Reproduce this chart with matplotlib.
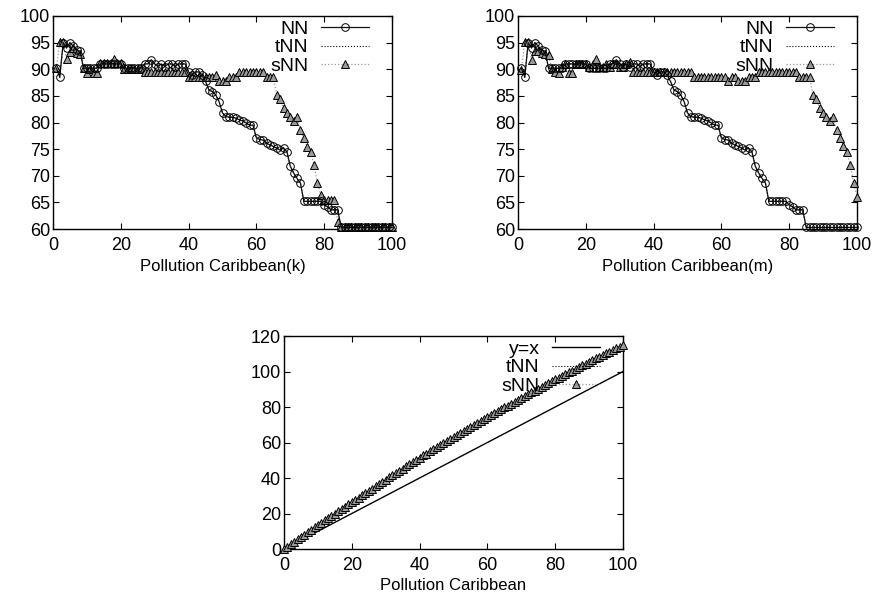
import matplotlib
matplotlib.use("Agg")
import matplotlib.pyplot as plt

plt.rcParams['font.family'] = ['Liberation Sans', 'DejaVu Sans']

x_top = list(range(1, 101))

nn = [90.2, 88.5, 95.0, 94.0, 95.0, 94.3, 93.6, 93.4, 90.2, 90.2,
      90.2, 90.2, 90.2, 91.0, 91.0, 91.0, 91.0, 91.0, 91.0, 91.0,
      90.2, 90.2, 90.2, 90.2, 90.2, 90.2, 91.0, 91.0, 91.8, 91.0,
      90.5, 91.0, 90.5, 91.0, 91.0, 90.5, 91.0, 91.0, 91.0, 89.5,
      88.9, 89.5, 89.5, 88.9, 87.7, 86.1, 85.8, 85.2, 83.9, 81.8,
      81.1, 81.0, 81.0, 80.8, 80.5, 80.3, 79.9, 79.5, 79.5, 77.1,
      76.8, 76.7, 76.1, 75.8, 75.5, 75.2, 74.8, 75.2, 74.5, 71.8,
      70.5, 69.5, 68.6, 65.2, 65.2, 65.2, 65.2, 65.2, 65.2, 64.5,
      64.2, 63.6, 63.6, 63.6, 60.3, 60.3, 60.3, 60.3, 60.3, 60.3,
      60.3, 60.3, 60.3, 60.3, 60.3, 60.3, 60.3, 60.3, 60.3, 60.3]

tnn = nn

snn_k = [90.2, 95.2, 95.2, 91.9, 93.3, 94.0, 93.0, 92.8, 90.2, 89.3,
         90.0, 89.3, 89.3, 91.1, 91.1, 91.1, 91.1, 91.9, 91.1, 91.1,
         90.0, 90.0, 90.0, 90.0, 90.0, 90.0, 89.5, 89.5, 89.5, 89.5,
         89.5, 89.5, 89.5, 89.5, 89.5, 89.5, 89.5, 89.5, 89.5, 88.5,
         88.5, 88.5, 88.5, 88.5, 88.5, 88.5, 88.5, 88.9, 87.7, 87.7,
         87.7, 88.5, 88.5, 88.5, 89.5, 89.5, 89.5, 89.5, 89.5, 89.5,
         89.5, 89.5, 88.5, 88.5, 88.5, 85.2, 84.4, 82.7, 81.8, 81.0,
         80.3, 81.0, 78.6, 77.1, 75.4, 74.5, 72.0, 68.7, 66.4, 65.4,
         65.4, 65.4, 65.4, 61.4, 60.3, 60.3, 60.3, 60.3, 60.3, 60.3,
         60.3, 60.3, 60.3, 60.3, 60.3, 60.3, 60.3, 60.3, 60.3, 60.3]

snn_m = [89.9, 95.2, 95.2, 91.8, 93.5, 93.5, 93.0, 92.8, 92.7, 90.0,
         89.5, 89.3, 90.5, 91.0, 89.3, 89.3, 91.0, 91.0, 91.0, 91.0,
         90.5, 91.0, 92.0, 90.5, 90.5, 91.0, 90.5, 91.0, 91.0, 90.5,
         90.5, 91.0, 91.4, 89.5, 89.5, 89.5, 89.5, 89.5, 89.5, 89.5,
         89.5, 89.5, 89.5, 89.5, 89.5, 89.5, 89.5, 89.5, 89.5, 89.5,
         89.5, 88.5, 88.5, 88.5, 88.5, 88.5, 88.5, 88.5, 88.5, 88.5,
         88.5, 87.7, 88.5, 88.5, 87.7, 87.7, 87.7, 88.5, 88.5, 88.5,
         89.5, 89.5, 89.5, 89.5, 89.5, 89.5, 89.5, 89.5, 89.5, 89.5,
         89.5, 89.5, 88.5, 88.5, 88.5, 88.5, 85.2, 84.4, 82.7, 81.8,
         81.0, 80.3, 81.0, 78.6, 77.0, 75.5, 74.5, 72.0, 68.7, 66.1]

x_bot = list(range(0, 101))
yx = x_bot
snn_b = [0.0,
         1.4, 2.7, 4.1, 5.4, 6.8, 8.1, 9.5, 10.8, 12.2, 13.5,
         14.8, 16.1, 17.4, 18.7, 20.0, 21.3, 22.6, 23.9, 25.2, 26.5,
         27.8, 29.0, 30.3, 31.5, 32.8, 34.0, 35.3, 36.5, 37.8, 39.0,
         40.3, 41.5, 42.8, 44.0, 45.3, 46.5, 47.8, 49.0, 50.3, 51.5,
         52.7, 53.8, 55.0, 56.1, 57.3, 58.4, 59.6, 60.7, 61.9, 63.0,
         64.2, 65.3, 66.5, 67.6, 68.8, 69.9, 71.1, 72.2, 73.4, 74.5,
         75.6, 76.6, 77.7, 78.7, 79.8, 80.8, 81.9, 82.9, 84.0, 85.0,
         86.1, 87.1, 88.2, 89.2, 90.3, 91.3, 92.4, 93.4, 94.5, 95.5,
         96.5, 97.5, 98.5, 99.5, 100.5, 101.5, 102.5, 103.5, 104.5, 105.5,
         106.4, 107.4, 108.3, 109.3, 110.2, 111.2, 112.1, 113.1, 114.0, 115.0]
tnn_b = snn_b

xticks = [0, 20, 40, 60, 80, 100]
yticks_top = [60, 65, 70, 75, 80, 85, 90, 95, 100]
yticks_bot = [0, 20, 40, 60, 80, 100, 120]

FS_TICK = 13
FS_LAB = 12
FS_LEG = 14
W, H = 873, 598
fig = plt.figure(figsize=(W / 100, H / 100), dpi=100)


def rect(l, r, t, b):
    return [l / W, 1 - b / H, (r - l) / W, (b - t) / H]


def style_axes(ax, yticks, ylim, xlabel):
    ax.set_xlim(0, 100)
    ax.set_ylim(*ylim)
    ax.set_xticks(xticks)
    ax.set_yticks(yticks)
    ax.tick_params(direction='in', top=True, right=True, labelsize=FS_TICK,
                   length=4, width=0.8, pad=2, labelright=False, labeltop=False)
    ax.tick_params(axis='x', pad=6)
    for s in ax.spines.values():
        s.set_linewidth(1.0)
        s.set_color('black')
    ax.set_xlabel(xlabel, fontsize=FS_LAB, labelpad=3)


def add_legend(ax, handles, labels, right_px_from_spine, axw_px, top_drop_px, axh_px):
    xa = 1 - right_px_from_spine / axw_px
    ya = 1 - top_drop_px / axh_px
    ax.legend(handles, labels, loc='upper right', bbox_to_anchor=(xa, ya),
              frameon=False, markerfirst=False, fontsize=FS_LEG,
              handlelength=2.45, handletextpad=0.65, labelspacing=0.06,
              borderaxespad=0.0, borderpad=0.0)


def top_panel(r, snn, xlabel):
    ax = fig.add_axes(r)
    ax.plot(x_top, tnn, color='black', linestyle=':', linewidth=0.8,
            label='tNN', zorder=2, clip_on=False)
    ax.plot(x_top, snn, color='#999999', linestyle=':', linewidth=0.9,
            marker='^', markersize=5.5, markerfacecolor='#9a9a9a',
            markeredgecolor='black', markeredgewidth=0.7,
            label='sNN', zorder=3, clip_on=False)
    ax.plot(x_top, nn, color='#111111', linestyle='-', linewidth=0.9,
            marker='o', markersize=5.5, markerfacecolor='none',
            markeredgecolor='black', markeredgewidth=0.7,
            label='NN', zorder=4, clip_on=False)
    h, l = ax.get_legend_handles_labels()
    order = [2, 0, 1]
    add_legend(ax, [h[i] for i in order], [l[i] for i in order], 23, 339, 4, 213)
    style_axes(ax, yticks_top, (60, 100), xlabel)
    return ax


top_panel(rect(53, 392, 16, 229), snn_k, 'Pollution Caribbean(k)')
top_panel(rect(518, 857, 16, 229), snn_m, 'Pollution Caribbean(m)')

ax = fig.add_axes(rect(284, 623, 336, 549))
ax.plot(x_bot, yx, color='black', linestyle='-', linewidth=1.0,
        label='y=x', zorder=2)
ax.plot(x_bot, tnn_b, color='black', linestyle=':', linewidth=0.8,
        label='tNN', zorder=3)
ax.plot(x_bot, snn_b, color='#999999', linestyle=':', linewidth=0.9,
        marker='^', markersize=6, markerfacecolor='#9a9a9a',
        markeredgecolor='black', markeredgewidth=0.7,
        label='sNN', zorder=4, clip_on=False)
h, l = ax.get_legend_handles_labels()
add_legend(ax, h, l, 23, 339, 4, 213)
style_axes(ax, yticks_bot, (0, 120), 'Pollution Caribbean')

fig.savefig('out.png', dpi=100)
